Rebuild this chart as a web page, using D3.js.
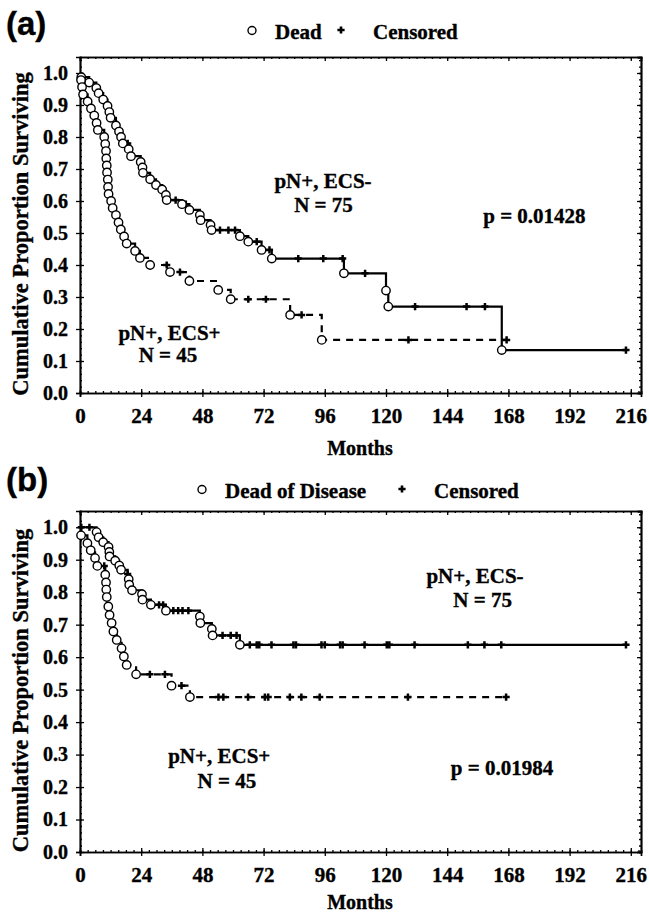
<!DOCTYPE html>
<html>
<head>
<meta charset="utf-8">
<script src="https://cdn.jsdelivr.net/npm/d3@7"></script>
<style>
  body { margin: 0; background: #fff; }
  svg { display: block; }
  text { font-family: "Liberation Serif", "Times New Roman", serif; font-weight: bold; fill: #000;
         stroke: #000; stroke-width: 0.35px; }
</style>
</head>
<body>
<svg id="chart"></svg>
<script>
// Tick labels shared by both panels
const monthTicks = [0, 24, 48, 72, 96, 120, 144, 168, 192, 216];
const survivalTicks = [0, 0.1, 0.2, 0.3, 0.4, 0.5, 0.6, 0.7, 0.8, 0.9, 1.0];

// Panel (a) - pN+, ECS- (solid), [months, proportion surviving]
const aNegDeaths = [
  [0.5, 0.987], [3.6, 0.970], [6.4, 0.953], [7.3, 0.937], [9.1, 0.917], [10.8, 0.897],
  [11.5, 0.878], [12.0, 0.860], [14.1, 0.836], [15.3, 0.817], [16.1, 0.800], [16.8, 0.780],
  [19.1, 0.762], [20.0, 0.740], [23.8, 0.722], [24.5, 0.705], [24.7, 0.688], [27.5, 0.668],
  [29.8, 0.650], [32.2, 0.636], [33.7, 0.619], [34.0, 0.603], [40.0, 0.590], [42.9, 0.572],
  [47.0, 0.556], [47.3, 0.540], [51.2, 0.525], [51.6, 0.509], [62.7, 0.490], [66.0, 0.473],
  [71.2, 0.447], [75.2, 0.420], [103.5, 0.374], [120.0, 0.320], [120.9, 0.270], [165.4, 0.134]
];
const aNegCensored = [
  [18.7, 0.780], [37.5, 0.603], [41.5, 0.590], [54.9, 0.509], [58.2, 0.509], [60.8, 0.509],
  [69.3, 0.473], [74.3, 0.447], [85.6, 0.420], [95.4, 0.420], [103.0, 0.420], [111.8, 0.374],
  [131.4, 0.270], [151.6, 0.270], [158.8, 0.270], [214.1, 0.134]
];
// Panel (a) - pN+, ECS+ (dashed)
const aPosDeaths = [
  [0.4, 0.978], [0.8, 0.956], [1.2, 0.933], [3.0, 0.911], [4.3, 0.889], [5.6, 0.867],
  [6.5, 0.844], [7.0, 0.822], [9.5, 0.800], [9.9, 0.778], [10.2, 0.756], [10.3, 0.733],
  [10.5, 0.711], [10.6, 0.689], [10.9, 0.667], [11.0, 0.644], [11.2, 0.622], [12.2, 0.600],
  [12.8, 0.578], [14.1, 0.556], [15.1, 0.533], [16.0, 0.511], [17.3, 0.489], [18.3, 0.467],
  [21.6, 0.444], [23.5, 0.422], [27.5, 0.400], [35.3, 0.378], [42.9, 0.350], [54.2, 0.322],
  [59.1, 0.293], [82.4, 0.244], [94.8, 0.166]
];
const aPosCensored = [
  [34.0, 0.400], [39.2, 0.378], [66.0, 0.293], [72.9, 0.293], [86.9, 0.244],
  [128.8, 0.166], [167.3, 0.166]
];

// Panel (b) - pN+, ECS- (solid)
const bNegDeaths = [
  [6.5, 0.985], [7.3, 0.969], [9.1, 0.954], [11.2, 0.939], [11.5, 0.924], [11.6, 0.910],
  [13.8, 0.897], [15.4, 0.882], [16.1, 0.869], [19.1, 0.840], [19.3, 0.823], [20.4, 0.806],
  [24.3, 0.794], [24.5, 0.777], [27.8, 0.761], [33.7, 0.743], [47.0, 0.725], [47.2, 0.705],
  [51.7, 0.687], [52.0, 0.667], [62.7, 0.638]
];
const bNegCensored = [
  [0.5, 1.0], [3.7, 1.0], [18.7, 0.856], [31.0, 0.761], [32.6, 0.761], [36.6, 0.743],
  [38.5, 0.743], [40.2, 0.743], [42.5, 0.743], [55.9, 0.667], [59.1, 0.667], [61.4, 0.667],
  [66.6, 0.638], [69.3, 0.638], [70.3, 0.638], [75.1, 0.638], [83.7, 0.638], [84.7, 0.638],
  [94.7, 0.638], [96.0, 0.638], [102.0, 0.638], [103.0, 0.638], [111.6, 0.638], [120.3, 0.638],
  [121.3, 0.638], [131.2, 0.638], [152.1, 0.638], [158.6, 0.638], [165.2, 0.638], [214.1, 0.638]
];
// Panel (b) - pN+, ECS+ (dashed)
const bPosDeaths = [
  [0.4, 0.975], [2.9, 0.951], [4.2, 0.929], [5.9, 0.905], [6.8, 0.881], [9.9, 0.854],
  [10.2, 0.830], [10.3, 0.808], [10.5, 0.785], [11.1, 0.756], [11.6, 0.730], [12.4, 0.705],
  [13.1, 0.679], [14.4, 0.653], [16.3, 0.627], [17.2, 0.602], [18.3, 0.576], [22.0, 0.547],
  [35.9, 0.512], [43.1, 0.477]
];
const bPosCensored = [
  [9.5, 0.881], [27.4, 0.547], [33.3, 0.547], [39.8, 0.512], [54.3, 0.477], [56.2, 0.477],
  [65.9, 0.477], [72.5, 0.477], [73.8, 0.477], [82.3, 0.477], [86.8, 0.477], [94.0, 0.477],
  [128.6, 0.477], [167.1, 0.477]
];

const W = 649, H = 916;
const svg = d3.select("#chart").attr("width", W).attr("height", H);

const plusPath = "M-3.6,0H3.6M0,-3.6V3.6";

function drawPanel(p) {
  const x = d3.scaleLinear().domain([0, 220]).range([80, 641]);
  const y = d3.scaleLinear().domain([0, 1.05]).range([p.bottom, p.top]);
  const g = svg.append("g");

  // minor ticks (inside the frame)
  const minorX = d3.range(0, 220, 3);
  const minorY = d3.range(0, 1.05, 0.02);
  g.append("g").attr("transform", `translate(0,${p.bottom})`)
    .call(d3.axisBottom(x).tickValues(minorX).tickSize(-2).tickFormat(""));
  g.append("g").attr("transform", `translate(0,${p.top})`)
    .call(d3.axisTop(x).tickValues(minorX).tickSize(-2).tickFormat(""));
  g.append("g").attr("transform", "translate(80,0)")
    .call(d3.axisLeft(y).tickValues(minorY).tickSize(-2).tickFormat(""));
  g.append("g").attr("transform", "translate(641,0)")
    .call(d3.axisRight(y).tickValues(minorY).tickSize(-2).tickFormat(""));

  // major axes
  const bottomAxis = g.append("g").attr("transform", `translate(0,${p.bottom})`)
    .call(d3.axisBottom(x).tickValues(monthTicks).tickSizeOuter(0).tickSize(4));
  bottomAxis.selectAll(".tick line").attr("y1", -4).attr("y2", 4);
  bottomAxis.selectAll("text").attr("y", 15).attr("dy", "0.71em").style("font-size", "21px");

  const leftAxis = g.append("g").attr("transform", "translate(80,0)")
    .call(d3.axisLeft(y).tickValues(survivalTicks).tickFormat(d3.format(".1f")).tickSizeOuter(0).tickSize(4));
  leftAxis.selectAll(".tick line").attr("x1", -4).attr("x2", 4);
  leftAxis.selectAll("text").attr("x", -12).style("font-size", "20px");

  g.append("g").attr("transform", `translate(0,${p.top})`)
    .call(d3.axisTop(x).tickValues(monthTicks).tickSizeOuter(0).tickSize(-4).tickFormat(""));
  g.append("g").attr("transform", "translate(641,0)")
    .call(d3.axisRight(y).tickValues(survivalTicks).tickSizeOuter(0).tickSize(-4).tickFormat(""));

  g.selectAll(".domain").attr("stroke", "#000").attr("stroke-width", 1.7);
  g.selectAll(".tick line").attr("stroke", "#000").attr("stroke-width", 1.3);

  // axis titles
  g.append("text")
    .attr("x", 360).attr("y", p.monthsY)
    .attr("text-anchor", "middle")
    .style("font-size", "20px")
    .text("Months");
  g.append("text")
    .attr("transform", `translate(28,${(p.top + p.bottom) / 2 + 9}) rotate(-90)`)
    .attr("text-anchor", "middle")
    .style("font-size", "22.5px")
    .text("Cumulative Proportion Surviving");

  // panel letter
  g.append("text")
    .attr("x", 6).attr("y", p.letterY)
    .style("font-family", "'Liberation Sans', Arial, sans-serif")
    .style("font-size", "33px")
    .text(p.letter);

  // legend
  g.append("circle").attr("cx", p.legend.circleX).attr("cy", p.legend.y - 8.5).attr("r", 4)
    .attr("fill", "#fff").attr("stroke", "#000").attr("stroke-width", 1.4);
  g.append("text").attr("x", p.legend.circleX + 23).attr("y", p.legend.y)
    .style("font-size", "21px").text(p.legend.dead);
  g.append("path").attr("d", plusPath)
    .attr("transform", `translate(${p.legend.plusX},${p.legend.y - 9})`)
    .attr("stroke", "#000").attr("stroke-width", 2.6);
  g.append("text").attr("x", p.legend.plusX + 32).attr("y", p.legend.y)
    .style("font-size", "21px").text("Censored");

  // survival curves
  const line = d3.line()
    .x(d => x(d[0]))
    .y(d => y(d[1]))
    .curve(d3.curveStepAfter);

  p.series.forEach(s => {
    const pts = [[0, 1]].concat(s.deaths, s.censored).sort((a, b) => a[0] - b[0]);
    g.append("path")
      .datum(pts)
      .attr("d", line)
      .attr("fill", "none")
      .attr("stroke", "#000")
      .attr("stroke-width", 2.2)
      .attr("stroke-dasharray", s.dashed ? "7,6" : null);
  });

  p.series.forEach(s => {
    g.selectAll(null)
      .data(s.censored)
      .enter().append("path")
      .attr("d", plusPath)
      .attr("transform", d => `translate(${x(d[0])},${y(d[1])})`)
      .attr("stroke", "#000")
      .attr("stroke-width", 2.5);
    g.selectAll(null)
      .data(s.deaths)
      .enter().append("circle")
      .attr("cx", d => x(d[0]))
      .attr("cy", d => y(d[1]))
      .attr("r", 4.2)
      .attr("fill", "#fff")
      .attr("stroke", "#000")
      .attr("stroke-width", 1.4);
  });

  // annotations placed in data coordinates
  p.notes.forEach(n => {
    g.append("text")
      .attr("x", x(n[0])).attr("y", y(n[1]))
      .attr("text-anchor", "middle")
      .style("font-size", "21px")
      .text(n[2]);
  });
}

drawPanel({
  top: 57, bottom: 393, letter: "(a)", letterY: 35, monthsY: 455,
  legend: { y: 39, circleX: 252, plusX: 341, dead: "Dead" },
  series: [
    { deaths: aNegDeaths, censored: aNegCensored, dashed: false },
    { deaths: aPosDeaths, censored: aPosCensored, dashed: true }
  ],
  notes: [
    [95.3, 0.64, "pN+, ECS-"], [95.5, 0.566, "N = 75"], [178.2, 0.531, "p = 0.01428"],
    [35.1, 0.166, "pN+, ECS+"], [34.5, 0.097, "N = 45"]
  ]
});

drawPanel({
  top: 511, bottom: 852, letter: "(b)", letterY: 491, monthsY: 909,
  legend: { y: 498, circleX: 202, plusX: 402, dead: "Dead of Disease" },
  series: [
    { deaths: bNegDeaths, censored: bNegCensored, dashed: false },
    { deaths: bPosDeaths, censored: bPosCensored, dashed: true }
  ],
  notes: [
    [154.9, 0.829, "pN+, ECS-"], [157.9, 0.755, "N = 75"], [165.5, 0.237, "p = 0.01984"],
    [54.6, 0.274, "pN+, ECS+"], [57.6, 0.197, "N = 45"]
  ]
});
</script>
</body>
</html>
